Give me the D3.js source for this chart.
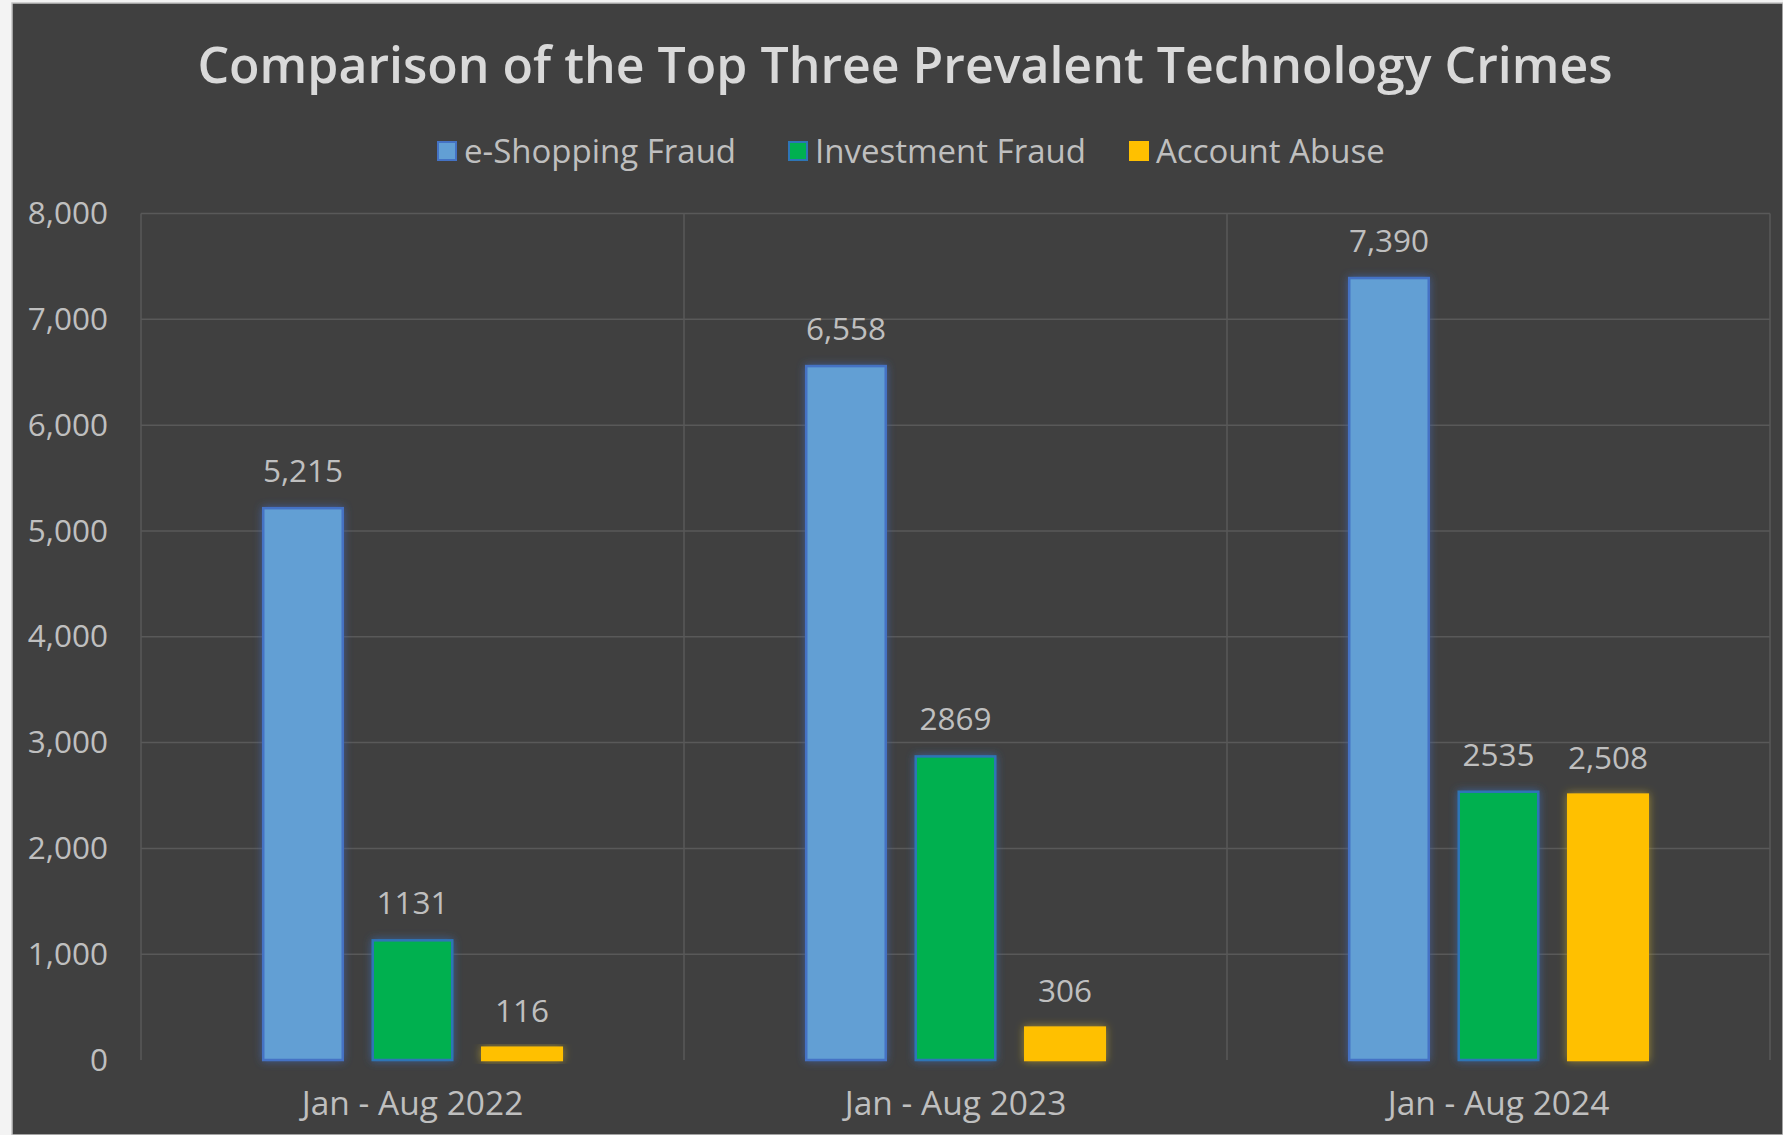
<!DOCTYPE html>
<html>
<head>
<meta charset="utf-8">
<script src="https://cdn.jsdelivr.net/npm/d3@7"></script>
<style>
  html, body { margin: 0; padding: 0; background: #f3f3f3; overflow: hidden; }
  svg { display: block; }
  text { font-family: "Open Sans", "Noto Sans", sans-serif; }
</style>
</head>
<body>
<svg id="chart" width="1783" height="1135"></svg>
<script>
// ---- data ----
const categories = ["Jan - Aug 2022", "Jan - Aug 2023", "Jan - Aug 2024"];
const seriesNames = ["e-Shopping Fraud", "Investment Fraud", "Account Abuse"];
const eShopping = [5215, 6558, 7390];
const investment = [1131, 2869, 2535];
const accountAbuse = [116, 306, 2508];
const eShoppingLabels = ["5,215", "6,558", "7,390"];
const investmentLabels = ["1131", "2869", "2535"];
const accountAbuseLabels = ["116", "306", "2,508"];
const yTicks = [0, 1000, 2000, 3000, 4000, 5000, 6000, 7000, 8000];
const titleText = "Comparison of the Top Three Prevalent Technology Crimes";

// ---- styles ----
const fills = ["#629FD4", "#00B050", "#FFC000"];
const strokes = ["#4472C4", "#2E75B6", "#FFC000"];
const glows = ["#3F62A8", "#3A66A8", "#B39A2A"];

const svg = d3.select("#chart");
const W = 1783, H = 1135;

// chart background
svg.append("rect").attr("x", 12).attr("y", 3).attr("width", W - 12).attr("height", H - 3)
  .attr("fill", "#404040").attr("stroke", "#c4c4c4").attr("stroke-width", 1.5);

// filters
const defs = svg.append("defs");
glows.forEach((c, i) => {
  const f = defs.append("filter").attr("id", "glow" + i)
    .attr("x", "-30%").attr("y", "-30%").attr("width", "160%").attr("height", "160%");
  f.append("feGaussianBlur").attr("in", "SourceAlpha").attr("stdDeviation", 4.5).attr("result", "b");
  f.append("feFlood").attr("flood-color", c).attr("flood-opacity", 0.8).attr("result", "c");
  f.append("feComposite").attr("in", "c").attr("in2", "b").attr("operator", "in").attr("result", "g");
  const m = f.append("feMerge");
  m.append("feMergeNode").attr("in", "g");
  m.append("feMergeNode").attr("in", "SourceGraphic");
});

const plot = { left: 141, right: 1770, top: 213.5, bottom: 1060 };

const x0 = d3.scaleBand().domain(categories).range([plot.left, plot.right]).padding(0);
const x1 = d3.scaleBand().domain(seriesNames).range([0, x0.bandwidth()])
  .paddingInner(0.274).paddingOuter(1.116);
const y = d3.scaleLinear().domain([0, 8000]).range([plot.bottom, plot.top]);

// gridlines
const grid = svg.append("g");
grid.selectAll("line.h").data(yTicks.filter(d => d > 0)).join("line")
  .attr("x1", plot.left).attr("x2", plot.right)
  .attr("y1", d => y(d)).attr("y2", d => y(d))
  .attr("stroke", "#595959").attr("stroke-width", 1.5);
const vlines = categories.map(c => x0(c)).concat([x0(categories[categories.length - 1]) + x0.bandwidth()]);
grid.selectAll("line.v").data(vlines).join("line")
  .attr("x1", d => d).attr("x2", d => d)
  .attr("y1", plot.top).attr("y2", plot.bottom)
  .attr("stroke", "#595959").attr("stroke-width", 1.5);

// y axis
const yAxis = svg.append("g").attr("transform", `translate(${plot.left},0)`)
  .call(d3.axisLeft(y).tickValues(yTicks).tickFormat(d3.format(",")).tickSize(0).tickPadding(33));
yAxis.select(".domain").remove();
yAxis.selectAll("text").attr("fill", "#BFBFBF").style("font-size", "31.5px");

// x axis
const xAxis = svg.append("g").attr("transform", `translate(0,${plot.bottom})`)
  .call(d3.axisBottom(x0).tickSize(0).tickPadding(31));
xAxis.select(".domain").remove();
xAxis.selectAll("text").attr("fill", "#BFBFBF").style("font-size", "33.5px");

// bars
const series = [
  { name: seriesNames[0], values: eShopping, labels: eShoppingLabels },
  { name: seriesNames[1], values: investment, labels: investmentLabels },
  { name: seriesNames[2], values: accountAbuse, labels: accountAbuseLabels }
];
series.forEach((s, si) => {
  const g = svg.append("g");
  g.selectAll("rect").data(categories).join("rect")
    .attr("x", (c) => x0(c) + x1(s.name))
    .attr("y", (c, i) => y(s.values[i]))
    .attr("width", x1.bandwidth())
    .attr("height", (c, i) => y(0) - y(s.values[i]))
    .attr("fill", fills[si])
    .attr("stroke", strokes[si])
    .attr("stroke-width", 2.5)
    .attr("filter", `url(#glow${si})`);
  g.selectAll("text").data(categories).join("text")
    .attr("x", (c) => x0(c) + x1(s.name) + x1.bandwidth() / 2)
    .attr("y", (c, i) => y(s.values[i]) - 26)
    .attr("text-anchor", "middle")
    .attr("fill", "#BFBFBF")
    .style("font-size", "31.5px")
    .text((c, i) => s.labels[i]);
});

// title
svg.append("text").attr("x", 905).attr("y", 83).attr("text-anchor", "middle")
  .attr("fill", "#D9D9D9").style("font-size", "50px").style("font-weight", 600)
  .text(titleText);

// legend
const legendX = [438, 789, 1130];
const lg = svg.append("g");
seriesNames.forEach((n, i) => {
  lg.append("rect").attr("x", legendX[i]).attr("y", 142).attr("width", 18).attr("height", 18)
    .attr("fill", fills[i]).attr("stroke", strokes[i]).attr("stroke-width", 2);
  lg.append("text").attr("x", legendX[i] + 26).attr("y", 151).attr("dy", "0.35em")
    .attr("fill", "#BFBFBF").style("font-size", "33px").text(n);
});
</script>
</body>
</html>
